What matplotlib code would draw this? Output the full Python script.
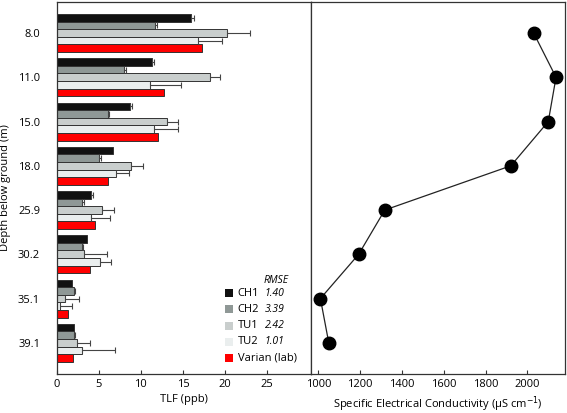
import matplotlib
matplotlib.use("Agg")
import matplotlib.pyplot as plt
import numpy as np
from matplotlib.patches import Rectangle

plt.rcParams['font.family'] = ['Open Sans', 'DejaVu Sans']

depths = ["8.0", "11.0", "15.0", "18.0", "25.9", "30.2", "35.1", "39.1"]
series = ["CH1", "CH2", "TU1", "TU2", "Varian (lab)"]
rmse = ["1.40", "3.39", "2.42", "1.01", ""]

ch1 = [16.0, 11.3, 8.7, 6.7, 4.05, 3.55, 1.85, 2.0]
ch2 = [11.7, 8.0, 6.15, 5.0, 3.0, 3.0, 2.0, 2.05]
tu1 = [20.2, 18.2, 13.1, 8.8, 5.4, 3.25, 1.0, 2.45]
tu2 = [16.8, 11.1, 11.6, 7.1, 4.05, 5.1, 0.4, 3.05]
varian = [17.3, 12.8, 12.0, 6.1, 4.6, 3.9, 1.4, 1.9]

ch1_err = [0.3, 0.3, 0.3, 0.0, 0.3, 0.0, 0.0, 0.0]
ch2_err = [0.2, 0.2, 0.1, 0.3, 0.3, 0.15, 0.2, 0.1]
tu1_err = [2.8, 1.2, 1.3, 1.5, 1.4, 2.7, 1.6, 1.5]
tu2_err = [2.8, 3.7, 2.8, 1.5, 2.25, 1.3, 1.45, 3.85]
varian_err = [0, 0, 0, 0, 0, 0, 0, 0]

conductivity = [2030, 2137, 2100, 1921, 1318, 1193, 1010, 1050]

values = [ch1, ch2, tu1, tu2, varian]
errors = [ch1_err, ch2_err, tu1_err, tu2_err, varian_err]
colors = ["#111111", "#8f9896", "#c9cecd", "#eaeeee", "#ff0000"]

fig = plt.figure(figsize=(5.67, 4.13), dpi=100)
ax1 = fig.add_axes([0.1, 0.095, 0.4485, 0.9])
ax2 = fig.add_axes([0.5485, 0.095, 0.448, 0.9])

y = np.arange(len(depths))
h = 0.172
for i, (vals, errs, c) in enumerate(zip(values, errors, colors)):
    pos = y + (i - 2) * h
    ax1.barh(pos, vals, height=h, color=c, edgecolor="#333333", linewidth=0.7)
    errs = np.array(errs)
    mask = errs > 0
    ax1.errorbar(np.array(vals)[mask], pos[mask],
                 xerr=[np.zeros(mask.sum()), errs[mask]],
                 fmt='none', ecolor="#444444", elinewidth=0.8, capsize=2.2, capthick=0.8)

ax1.set_ylim(7.7, -0.7)
ax1.set_xlim(0, 30.2)
ax1.set_yticks(y)
ax1.set_yticklabels(depths)
ax1.set_xticks([0, 5, 10, 15, 20, 25])
ax1.tick_params(axis='y', length=0, pad=12, labelsize=8)
ax1.tick_params(axis='x', direction='in', length=3, labelsize=8, pad=4, color="#333333")
ax1.set_xlabel("TLF (ppb)", fontsize=8, labelpad=3)
ax1.set_ylabel("Depth below ground (m)", fontsize=8, labelpad=5)
for s in ax1.spines.values():
    s.set_color("#333333")
    s.set_linewidth(0.9)
ax1.spines['right'].set_color("#111111")

# legend drawn manually
tr = ax1.transAxes
lx = 0.66
ly0 = 0.217
dy = 0.0437
ax1.text(lx + 0.152, ly0 + 0.035, "RMSE", transform=tr, fontsize=7.5,
         style='italic', va='center', ha='left')
for i, (name, r, c) in enumerate(zip(series, rmse, colors)):
    yy = ly0 - i * dy
    ax1.add_patch(Rectangle((lx, yy - 0.011), 0.0315, 0.022, transform=tr,
                            facecolor=c, edgecolor='none'))
    ax1.text(lx + 0.052, yy, name, transform=tr, fontsize=8, va='center', ha='left')
    if r:
        ax1.text(lx + 0.157, yy, r, transform=tr, fontsize=7.5, style='italic',
                 va='center', ha='left')

ax2.plot(conductivity, y, color="#222222", linewidth=0.9, marker='o',
         markersize=9, markerfacecolor='black', markeredgecolor='black')
ax2.set_ylim(7.7, -0.7)
ax2.set_xlim(965, 2180)
ax2.set_xticks([1000, 1200, 1400, 1600, 1800, 2000])
ax2.set_yticks([])
ax2.tick_params(axis='x', direction='in', length=3, labelsize=8, pad=4, color="#333333")
ax2.set_xlabel("Specific Electrical Conductivity (µS cm$^{-1}$)", fontsize=8, labelpad=3)
for s in ax2.spines.values():
    s.set_color("#333333")
    s.set_linewidth(0.9)

fig.savefig("out.png", dpi=100)
